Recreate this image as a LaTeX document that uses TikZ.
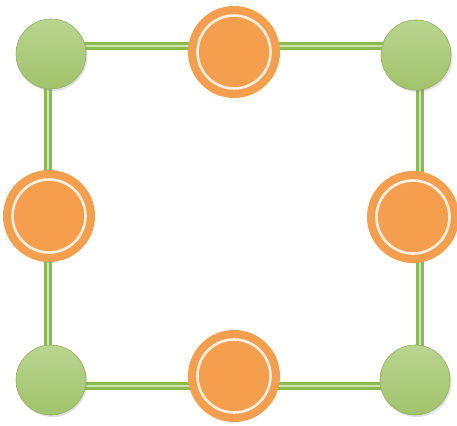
\documentclass[tikz,border=0pt]{standalone}
\usepackage{tikz}
\usetikzlibrary{shadows}
\definecolor{hubgreen}{HTML}{A2C36C}
\definecolor{hubtop}{HTML}{B9D48F}
\definecolor{linkgreen}{HTML}{8CBA52}
\definecolor{linklight}{HTML}{CDE5AC}
\definecolor{relayorange}{HTML}{F59E4E}

\begin{document}
\begin{tikzpicture}[
  x=1pt, y=-1pt,
  hub/.style={circle, minimum size=70pt, inner sep=0pt, top color=hubtop, bottom color=hubgreen,
    draw=hubgreen!90!black, line width=0.6pt, drop shadow={shadow xshift=1.5pt, shadow yshift=-2pt, opacity=0.25}},
  relay/.style={circle, minimum size=92pt, inner sep=0pt, fill=relayorange,
    path picture={\draw[white!85!relayorange, line width=2.6pt] (path picture bounding box.center) circle (36.5pt);}},
  link/.style={draw=linkgreen, line width=3pt, double=linklight, double distance=2.5pt}
]
  \useasboundingbox (0,0) rectangle (457,425);

  % Square of links
  \coordinate (ctl) at (48,46);
  \coordinate (ctr) at (420,46);
  \coordinate (cbl) at (48,386);
  \coordinate (cbr) at (420,386);
  \draw[link] (ctl) -- (ctr) -- (cbr) -- (cbl) -- cycle;

  % Corners
  \node[hub] (tl) at (51,54) {};
  \node[hub] (tr) at (416,55) {};
  \node[hub] (bl) at (51,380) {};
  \node[hub] (br) at (415,380) {};

  % Midpoints
  \node[relay] (top) at (234,52) {};
  \node[relay] (left) at (49,216) {};
  \node[relay] (right) at (413,217) {};
  \node[relay] (bottom) at (234,376) {};
\end{tikzpicture}
\end{document}
